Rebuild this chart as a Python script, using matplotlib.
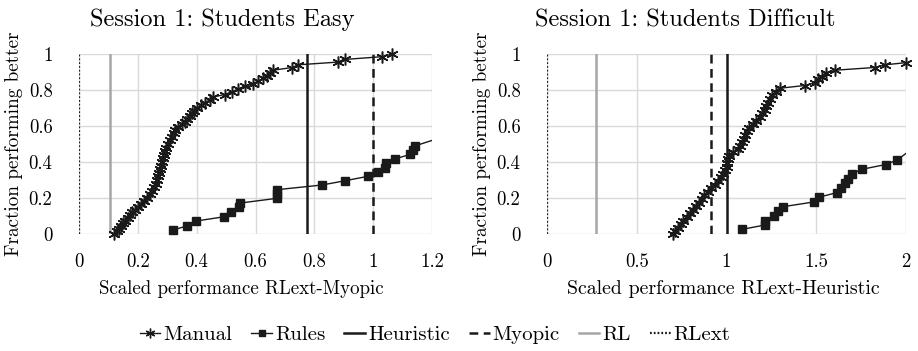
import numpy as np
import matplotlib
matplotlib.use("Agg")
import matplotlib.pyplot as plt
from matplotlib.lines import Line2D

plt.rcParams['font.family'] = ['cmr10', 'DejaVu Serif']
plt.rcParams['mathtext.fontset'] = 'cm'
plt.rcParams['axes.formatter.use_mathtext'] = True

# ---- data ----
easy_manual_x = [0.120, 0.128, 0.135, 0.142, 0.150, 0.158, 0.165, 0.172, 0.180, 0.190,
                 0.200, 0.210, 0.220, 0.230, 0.240, 0.248, 0.255, 0.262, 0.266, 0.270,
                 0.273, 0.276, 0.279, 0.282, 0.285, 0.288, 0.292, 0.297, 0.303, 0.310,
                 0.316, 0.322, 0.328, 0.335, 0.350, 0.360, 0.368, 0.376, 0.384, 0.392,
                 0.402, 0.414, 0.428, 0.445, 0.455, 0.495, 0.520, 0.540, 0.565, 0.590,
                 0.610, 0.625, 0.640, 0.650, 0.660, 0.725, 0.745, 0.880, 0.905, 1.030, 1.065]
easy_manual_y = [0.000, 0.015, 0.030, 0.045, 0.060, 0.075, 0.090, 0.105, 0.120, 0.135,
                 0.150, 0.165, 0.185, 0.200, 0.220, 0.240, 0.260, 0.280, 0.300, 0.320,
                 0.340, 0.360, 0.380, 0.400, 0.420, 0.440, 0.460, 0.480, 0.500, 0.520,
                 0.540, 0.560, 0.580, 0.595, 0.610, 0.625, 0.640, 0.655, 0.670, 0.685,
                 0.700, 0.715, 0.730, 0.745, 0.760, 0.775, 0.790, 0.805, 0.820, 0.835,
                 0.850, 0.865, 0.880, 0.895, 0.910, 0.925, 0.940, 0.955, 0.970, 0.985, 1.000]
easy_rules_x = [0.321, 0.368, 0.398, 0.494, 0.516, 0.544, 0.548, 0.672, 0.672, 0.672,
                0.825, 0.905, 0.981, 1.015, 1.041, 1.043, 1.075, 1.126, 1.137, 1.143, 1.300]
easy_rules_y = [0.022, 0.046, 0.072, 0.096, 0.124, 0.148, 0.172, 0.198, 0.222, 0.246,
                0.272, 0.296, 0.320, 0.344, 0.368, 0.394, 0.418, 0.442, 0.466, 0.490, 0.572]
easy_vlines = {'Heuristic': 0.775, 'Myopic': 1.0, 'RL': 0.105, 'RLext': 0.0}

diff_manual_x = [0.700, 0.715, 0.730, 0.745, 0.760, 0.778, 0.795, 0.812, 0.830, 0.848,
                 0.862, 0.875, 0.895, 0.915, 0.935, 0.955, 0.970, 0.982, 0.992, 1.000,
                 1.005, 1.010, 1.015, 1.035, 1.065, 1.075, 1.085, 1.095, 1.105, 1.115,
                 1.128, 1.145, 1.165, 1.185, 1.200, 1.212, 1.222, 1.232, 1.242, 1.252,
                 1.275, 1.300, 1.435, 1.495, 1.510, 1.530, 1.555, 1.605, 1.825, 1.885,
                 2.000, 2.300]
diff_manual_y = [0.000, 0.015, 0.035, 0.055, 0.075, 0.095, 0.115, 0.135, 0.155, 0.175,
                 0.195, 0.215, 0.235, 0.255, 0.275, 0.295, 0.315, 0.335, 0.355, 0.375,
                 0.395, 0.415, 0.435, 0.455, 0.470, 0.490, 0.510, 0.530, 0.550, 0.570,
                 0.590, 0.610, 0.630, 0.650, 0.670, 0.690, 0.710, 0.730, 0.750, 0.770,
                 0.790, 0.810, 0.825, 0.840, 0.860, 0.875, 0.895, 0.910, 0.925, 0.940,
                 0.952, 0.970]
diff_rules_x = [1.088, 1.214, 1.214, 1.266, 1.289, 1.317, 1.487, 1.515, 1.614, 1.636,
                1.660, 1.679, 1.697, 1.757, 1.887, 1.952, 2.050]
diff_rules_y = [0.026, 0.050, 0.074, 0.100, 0.126, 0.152, 0.178, 0.204, 0.230, 0.256,
                0.282, 0.308, 0.334, 0.360, 0.386, 0.412, 0.485]
diff_vlines = {'Heuristic': 1.0, 'Myopic': 0.914, 'RL': 0.273, 'RLext': 0.0}

y_ticks = [0, 0.2, 0.4, 0.6, 0.8, 1]
y_ticklabels = ['0', '0.2', '0.4', '0.6', '0.8', '1']
easy_xticks = [0, 0.2, 0.4, 0.6, 0.8, 1.0, 1.2]
easy_xticklabels = ['0', '0.2', '0.4', '0.6', '0.8', '1', '1.2']
diff_xticks = [0, 0.5, 1.0, 1.5, 2.0]
diff_xticklabels = ['0', '0.5', '1', '1.5', '2']

# styles
vstyle = {
    'Heuristic': dict(color='#1a1a1a', lw=1.8, ls='-'),
    'Myopic': dict(color='#1a1a1a', lw=1.8, ls=(0, (3.5, 2.2))),
    'RL': dict(color='#a6a6a6', lw=1.8, ls='-'),
    'RLext': dict(color='#1a1a1a', lw=1.6, ls=(0, (0.8, 0.9))),
}
star = (6, 2, 0)


def panel(ax, title, xlabel, mx, my, rx, ry, vlines, xticks, xticklabels,
          title_x, xlabel_x, xlabel_size):
    xmax = xticks[-1]
    ax.set_xlim(0, xmax)
    ax.set_ylim(0, 1)
    ax.set_xticks(xticks)
    ax.set_xticklabels(xticklabels)
    ax.set_yticks(y_ticks)
    ax.set_yticklabels(y_ticklabels)
    ax.grid(True, color='#d9d9d9', lw=1)
    ax.set_axisbelow(True)
    for s in ax.spines.values():
        s.set_visible(False)
    ax.tick_params(length=0, labelsize=13.5, pad=14)
    ax.tick_params(axis='y', pad=19)

    for name in ['RL', 'RLext', 'Heuristic', 'Myopic']:
        ax.axvline(vlines[name], ymin=0, ymax=1, **vstyle[name])

    mx = np.array(mx); my = np.array(my)
    rx = np.array(rx); ry = np.array(ry)
    ax.plot(mx, my, color='#1a1a1a', lw=1)
    ax.plot(rx, ry, color='#1a1a1a', lw=1)
    km = mx <= xmax
    kr = rx <= xmax
    ax.plot(mx[km], my[km], ls='none', marker=star, ms=8.5, mew=1.1,
            color='#1a1a1a', clip_on=False)
    ax.plot(rx[kr], ry[kr], ls='none', marker='s', ms=5.5,
            color='#1a1a1a', clip_on=False)

    ax.set_title(title, fontsize=17.6, pad=20, x=title_x)
    ax.set_xlabel(xlabel, fontsize=xlabel_size, labelpad=6, x=xlabel_x)
    ax.set_ylabel('Fraction performing better', fontsize=13.8, labelpad=4)


fig = plt.figure(figsize=(9.18, 3.51), dpi=100)
ax1 = fig.add_axes([79 / 918, 1 - 234 / 351, (432 - 79) / 918, 180 / 351])
ax2 = fig.add_axes([547 / 918, 1 - 234 / 351, (906 - 547) / 918, 180 / 351])

panel(ax1, 'Session 1: Students Easy', 'Scaled performance RLext-Myopic',
      easy_manual_x, easy_manual_y, easy_rules_x, easy_rules_y, easy_vlines,
      easy_xticks, easy_xticklabels, 0.4065, 0.46, 13.6)
panel(ax2, 'Session 1: Students Difficult', 'Scaled performance RLext-Heuristic',
      diff_manual_x, diff_manual_y, diff_rules_x, diff_rules_y, diff_vlines,
      diff_xticks, diff_xticklabels, 0.384, 0.492, 14.3)

handles = [
    Line2D([], [], color='#1a1a1a', lw=1, marker=star, ms=7, mew=1),
    Line2D([], [], color='#1a1a1a', lw=1, marker='s', ms=5),
    Line2D([], [], **vstyle['Heuristic']),
    Line2D([], [], **vstyle['Myopic']),
    Line2D([], [], **vstyle['RL']),
    Line2D([], [], **vstyle['RLext']),
]
labels = ['Manual', 'Rules', 'Heuristic', 'Myopic', 'RL', 'RLext']
fig.legend(handles, labels, loc='center', bbox_to_anchor=(435 / 918, 1 - 335 / 351),
           ncol=6, frameon=False, fontsize=15, handlelength=1.0,
           handletextpad=0.15, columnspacing=0.9)

fig.savefig('out.png', dpi=100)
